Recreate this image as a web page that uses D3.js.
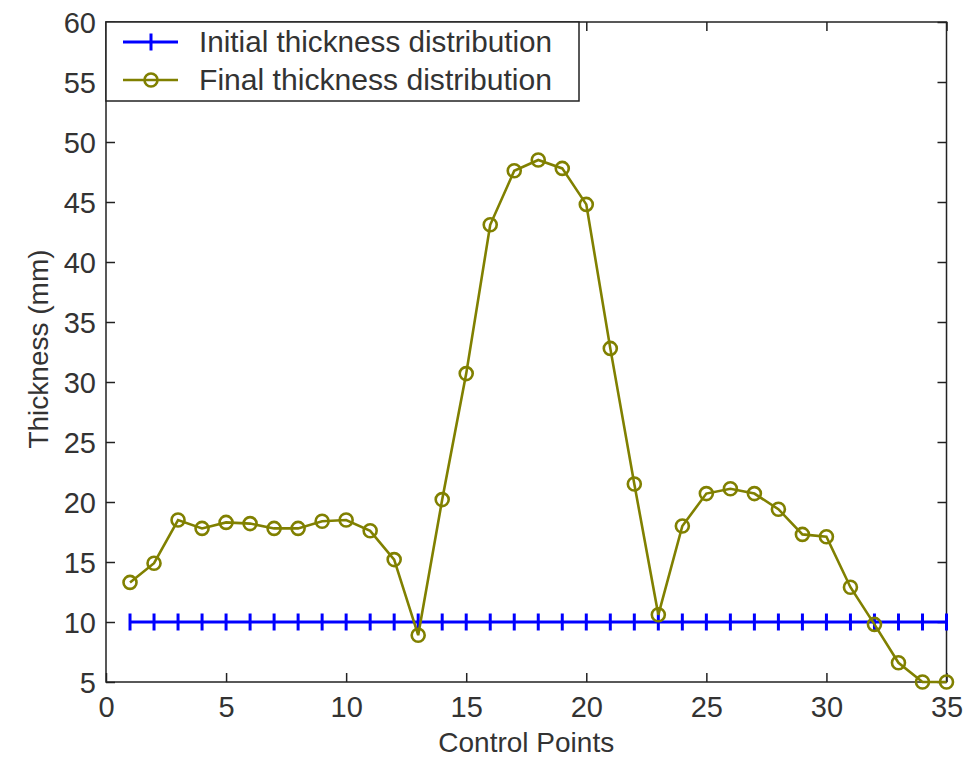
<!DOCTYPE html>
<html>
<head>
<meta charset="utf-8">
<style>
    body { margin: 0; background: white; }
    svg { display: block; font-family: 'Liberation Sans', Arial, sans-serif; }
    .tick text { fill: #333; font-size: 29px; }
</style>
</head>
<body>
<svg id="chart" width="965" height="758"></svg>
<script src="https://cdn.jsdelivr.net/npm/d3@7/dist/d3.min.js"></script>
<script>
    // data
    let points = d3.range(1, 36)
    let initial = points.map(() => 10)
    let final = [13.3, 14.9, 18.5, 17.8, 18.3, 18.2, 17.8, 17.8, 18.4, 18.5,
                 17.6, 15.2, 8.9, 20.2, 30.7, 43.1, 47.6, 48.5, 47.8, 44.8,
                 32.8, 21.5, 10.6, 18.0, 20.7, 21.1, 20.7, 19.4, 17.3, 17.1,
                 12.9, 9.8, 6.6, 5.0, 5.0]
    let xTicks = [0, 5, 10, 15, 20, 25, 30, 35]
    let yTicks = [5, 10, 15, 20, 25, 30, 35, 40, 45, 50, 55, 60]
    let names = ["Initial thickness distribution", "Final thickness distribution"]

    let mLeft = 106, mRight = 946.5, mTop = 22, mBottom = 682

    let svg = d3.select("#chart")

    let x = d3.scaleLinear().domain([0, 35]).range([mLeft, mRight])
    let y = d3.scaleLinear().domain([5, 60]).range([mBottom, mTop])

    // axes (ticks inward, matlab style)
    let gx = svg.append("g").attr("transform", `translate(0,${mBottom})`)
        .call(d3.axisBottom(x).tickValues(xTicks).tickSize(-9).tickPadding(14).tickFormat(d3.format("d")))
    let gy = svg.append("g").attr("transform", `translate(${mLeft},0)`)
        .call(d3.axisLeft(y).tickValues(yTicks).tickSize(-9).tickPadding(10).tickFormat(d3.format("d")))
    svg.append("g").attr("transform", `translate(0,${mTop})`)
        .call(d3.axisTop(x).tickValues(xTicks).tickSize(-9).tickFormat(""))
    svg.append("g").attr("transform", `translate(${mRight},0)`)
        .call(d3.axisRight(y).tickValues(yTicks).tickSize(-9).tickFormat(""))

    svg.selectAll(".domain").remove()
    svg.selectAll(".tick line").attr("stroke", "#222").attr("stroke-width", 1.5)
    gx.selectAll(".tick text").attr("dy", "0.72em")
    gy.selectAll(".tick text").attr("dy", "0.36em")

    svg.append("rect")
        .attr("x", mLeft).attr("y", mTop)
        .attr("width", mRight - mLeft).attr("height", mBottom - mTop)
        .attr("fill", "none").attr("stroke", "#222").attr("stroke-width", 1.5)

    let line = d3.line().x((d, i) => x(points[i])).y(d => y(d))

    // initial series
    svg.append("path").datum(initial)
        .attr("d", line).attr("fill", "none")
        .attr("stroke", "#0000ff").attr("stroke-width", 3)
    svg.append("g").selectAll("line").data(initial).join("line")
        .attr("x1", (d, i) => x(points[i])).attr("x2", (d, i) => x(points[i]))
        .attr("y1", d => y(d) - 8.5).attr("y2", d => y(d) + 8.5)
        .attr("stroke", "#0000ff").attr("stroke-width", 3)

    // final series
    svg.append("path").datum(final)
        .attr("d", line).attr("fill", "none")
        .attr("stroke", "#808000").attr("stroke-width", 2.6)
    svg.append("g").selectAll("circle").data(final).join("circle")
        .attr("cx", (d, i) => x(points[i])).attr("cy", d => y(d))
        .attr("r", 6.5).attr("fill", "none")
        .attr("stroke", "#808000").attr("stroke-width", 2.6)

    // legend
    let lg = svg.append("g")
    lg.append("rect").attr("x", mLeft).attr("y", mTop)
        .attr("width", 473).attr("height", 79)
        .attr("fill", "white").attr("stroke", "#222").attr("stroke-width", 1.5)
    let rows = [42, 80]
    lg.append("line").attr("x1", 123).attr("x2", 178).attr("y1", rows[0]).attr("y2", rows[0])
        .attr("stroke", "#0000ff").attr("stroke-width", 3)
    lg.append("line").attr("x1", 151).attr("x2", 151).attr("y1", rows[0] - 8.5).attr("y2", rows[0] + 8.5)
        .attr("stroke", "#0000ff").attr("stroke-width", 3)
    lg.append("line").attr("x1", 123).attr("x2", 178).attr("y1", rows[1]).attr("y2", rows[1])
        .attr("stroke", "#808000").attr("stroke-width", 2.6)
    lg.append("circle").attr("cx", 151).attr("cy", rows[1]).attr("r", 6.5)
        .attr("fill", "none").attr("stroke", "#808000").attr("stroke-width", 2.6)
    lg.selectAll("text").data(names).join("text")
        .attr("x", 199).attr("y", (d, i) => rows[i] + 10)
        .attr("font-size", 29).attr("fill", "#333")
        .attr("textLength", 353).attr("lengthAdjust", "spacingAndGlyphs")
        .text(d => d)

    // axis labels
    svg.append("text").attr("x", x(17.5)).attr("y", 752)
        .attr("text-anchor", "middle").attr("font-size", 28).attr("fill", "#333")
        .text("Control Points")
    svg.append("text").attr("transform", `translate(48,${(mTop + mBottom) / 2 - 3}) rotate(-90)`)
        .attr("text-anchor", "middle").attr("font-size", 28).attr("fill", "#333")
        .text("Thickness (mm)")
</script>
</body>
</html>
